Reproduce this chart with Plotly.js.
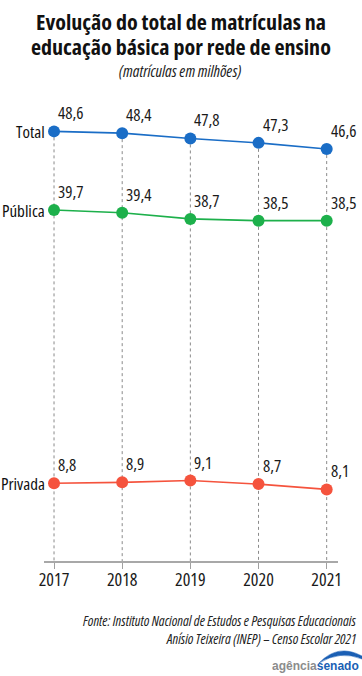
<!DOCTYPE html>
<html>
<head>
<meta charset="utf-8">
<script src="https://cdn.plot.ly/plotly-3.0.1.min.js"></script>
<style>
html,body{margin:0;padding:0;background:#fff;}
#chart{width:362px;height:676px;}
svg text{font-stretch:75% !important;}
</style>
</head>
<body>
<div id="chart"></div>
<script>
const years = [2017, 2018, 2019, 2020, 2021];
const total = [48.6, 48.4, 47.8, 47.3, 46.6];
const publica = [39.7, 39.4, 38.7, 38.5, 38.5];
const privada = [8.8, 8.9, 9.1, 8.7, 8.1];
const seriesNames = ['Total', 'Pública', 'Privada'];
const seriesColors = ['#1a6dc6', '#1db04b', '#f5533d'];

const FONT = '"Open Sans", Roboto, sans-serif';

// plot area in pixels
const PL = 44, PR = 338, PT = 100, PB = 561;
const px = x => ((x - PL) / (PR - PL)).toFixed(4);
const py = y => ((PB - y) / (PB - PT)).toFixed(4);

// dotted guide lines from Total down to the axis
const gx = [], gy = [];
years.forEach((yr, i) => { gx.push(yr, yr, null); gy.push(total[i], 0, null); });

const traces = [{
  x: gx, y: gy, mode: 'lines', hoverinfo: 'skip', showlegend: false,
  line: {color: '#8a8a8a', width: 1, dash: 'dot'}
}];
[total, publica, privada].forEach((vals, k) => {
  traces.push({
    x: years, y: vals, mode: 'lines+markers', name: seriesNames[k],
    line: {color: seriesColors[k], width: 1.6},
    marker: {color: seriesColors[k], size: 12},
    showlegend: false, cliponaxis: false
  });
});

function paperText(text, xPix, yPix, anchor, font) {
  return {text: text, xref: 'paper', yref: 'paper', x: 0, y: 1,
    xshift: xPix - PL, yshift: PT - yPix, xanchor: anchor, yanchor: 'middle',
    showarrow: false, font: font};
}

const annotations = [
  paperText('<b>Evolução do total de matrículas na</b>', 181, 21, 'center', {family: FONT, size: 22, color: '#111'}),
  paperText('<b>educação básica por rede de ensino</b>', 181, 46, 'center', {family: FONT, size: 22, color: '#111'}),
  paperText('<i>(matrículas em milhões)</i>', 180, 71, 'center', {family: FONT, size: 16, color: '#222'}),
  paperText('<i>Fonte: Instituto Nacional de Estudos e Pesquisas Educacionais</i>', 358, 620, 'right', {family: FONT, size: 14, color: '#222'}),
  paperText('<i>Anísio Teixeira (INEP) – Censo Escolar 2021</i>', 358, 638, 'right', {family: FONT, size: 14, color: '#222'}),
  paperText('<b><span style="color:#8c8c8c;font-stretch:100%">agência</span><span style="color:#1a5fb4;font-stretch:100%">senado</span></b>',
    361, 666, 'right', {family: '"Liberation Sans", Arial, sans-serif', size: 12, color: '#1a5fb4'})
];
[total, publica, privada].forEach((vals, k) => {
  annotations.push({text: seriesNames[k], x: years[0], y: vals[0], xref: 'x', yref: 'y',
    xanchor: 'right', yanchor: 'middle', xshift: -7, showarrow: false,
    font: {family: FONT, size: 17, color: '#111'}});
  vals.forEach((v, i) => {
    annotations.push({text: v.toFixed(1).replace('.', ','), x: years[i], y: v, xref: 'x', yref: 'y',
      xanchor: 'left', yanchor: 'bottom', xshift: 2, yshift: 5, showarrow: false,
      font: {family: FONT, size: 17, color: '#1a1a1a'}});
  });
});

const arc = 'M ' + px(319) + ' ' + py(663) +
  ' Q ' + px(338) + ' ' + py(643) + ' ' + px(362) + ' ' + py(656) +
  ' L ' + px(362) + ' ' + py(659) +
  ' Q ' + px(340) + ' ' + py(650) + ' ' + px(319) + ' ' + py(663) + ' Z';

const layout = {
  width: 362, height: 676,
  margin: {l: PL, r: 362 - PR, t: PT, b: 676 - PB},
  paper_bgcolor: '#fff', plot_bgcolor: '#fff',
  separators: ',.',
  showlegend: false,
  xaxis: {range: [2016.853, 2021.166], tickvals: years, ticktext: years.map(String),
    showgrid: false, zeroline: false, showline: true, linecolor: '#a8a8a8', linewidth: 1.5,
    ticks: 'outside', ticklen: 6, tickcolor: '#a0a0a0', tickwidth: 1, ticklabelstandoff: -4,
    tickfont: {family: FONT, size: 18, color: '#1a1a1a'}, fixedrange: true},
  yaxis: {range: [0, 52.15], visible: false, showgrid: false, zeroline: false, fixedrange: true},
  annotations: annotations,
  shapes: [{type: 'path', xref: 'paper', yref: 'paper', path: arc,
    fillcolor: '#1a5fb4', line: {color: '#1a5fb4', width: 0.5}}]
};

Plotly.newPlot('chart', traces, layout, {displayModeBar: false, staticPlot: true});
</script>
</body>
</html>
